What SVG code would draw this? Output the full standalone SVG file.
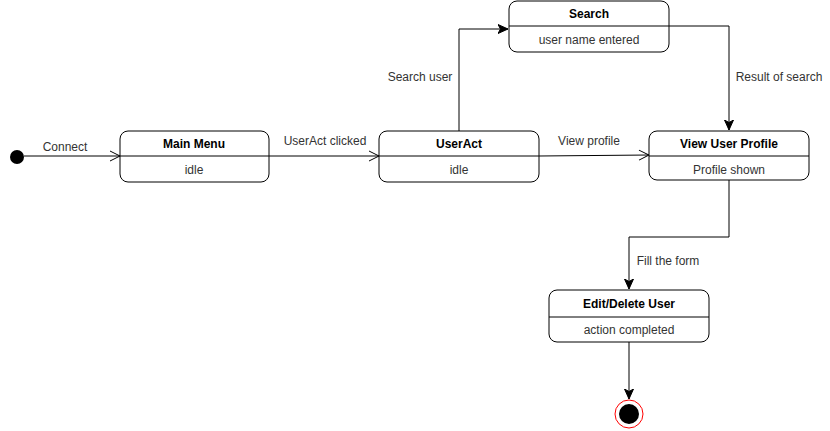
<svg xmlns="http://www.w3.org/2000/svg" width="830" height="431" viewBox="0 0 830 431">
<style>
.box{fill:#fff;stroke:#000;stroke-width:1}
.div{stroke:#000;stroke-width:1}
.t{font-family:"Liberation Sans",Arial,sans-serif;font-size:12px;fill:#333;text-anchor:middle}
.b{font-weight:bold;fill:#000}
.lbl{font-family:"Liberation Sans",Arial,sans-serif;font-size:12px;fill:#333;text-anchor:middle}
.edge{fill:none;stroke:#000;stroke-width:1}
.open{marker-end:url(#open)}
.fill{marker-end:url(#filled)}
</style>
<defs>
<marker id="open" markerWidth="12" markerHeight="12" refX="11" refY="6" orient="auto" markerUnits="userSpaceOnUse">
<path d="M1,1 L11,6 L1,11" fill="none" stroke="#000" stroke-width="1"/>
</marker>
<marker id="filled" markerWidth="12" markerHeight="12" refX="10" refY="5" orient="auto" markerUnits="userSpaceOnUse">
<path d="M0,0.5 L10,5 L0,9.5 L2.5,5 Z" fill="#000" stroke="#000" stroke-width="1"/>
</marker>
</defs>
<g id="edges">
<path class="edge open" d="M24,156 L120,156" stroke="#555"/>
<text class="lbl" x="65" y="151" font-size="11">Connect</text>
<path class="edge open" d="M269,156 L379,156"/>
<text class="lbl" x="325" y="145">UserAct clicked</text>
<path class="edge fill" d="M459,131 L459,29 L508,29"/>
<text class="lbl" x="420" y="81">Search user</text>
<path class="edge fill" d="M669,26 L729,26 L729,130"/>
<text class="lbl" x="779" y="81">Result of search</text>
<path class="edge open" d="M539,156 L649,155"/>
<text class="lbl" x="589" y="145">View profile</text>
<path class="edge fill" d="M729,180 L729,237 L629,237 L629,289"/>
<text class="lbl" x="668" y="265">Fill the form</text>
<path class="edge fill" d="M629,342 L629,399"/>
</g>
<g id="start"><circle cx="17" cy="157" r="7" fill="#000"/></g>
<g id="main-menu">
<rect class="box" x="120" y="131" width="149" height="51" rx="8"/>
<line class="div" x1="120" y1="156" x2="269" y2="156"/>
<text class="t b" x="194" y="148">Main Menu</text>
<text class="t" x="194" y="174">idle</text>
</g>
<g id="useract">
<rect class="box" x="379" y="131" width="160" height="51" rx="8"/>
<line class="div" x1="379" y1="156" x2="539" y2="156"/>
<text class="t b" x="459" y="148">UserAct</text>
<text class="t" x="459" y="174">idle</text>
</g>
<g id="search">
<rect class="box" x="509" y="1" width="160" height="51" rx="8"/>
<line class="div" x1="509" y1="26" x2="669" y2="26"/>
<text class="t b" x="589" y="18">Search</text>
<text class="t" x="589" y="44">user name entered</text>
</g>
<g id="view-profile">
<rect class="box" x="649" y="131" width="160" height="49" rx="8"/>
<line class="div" x1="649" y1="156" x2="809" y2="156"/>
<text class="t b" x="729" y="148">View User Profile</text>
<text class="t" x="729" y="174">Profile shown</text>
</g>
<g id="edit-delete">
<rect class="box" x="549" y="290" width="160" height="52" rx="8"/>
<line class="div" x1="549" y1="317" x2="709" y2="317"/>
<text class="t b" x="629" y="308">Edit/Delete User</text>
<text class="t" x="629" y="334">action completed</text>
</g>
<g id="end">
<circle cx="629" cy="414" r="14" fill="#fff" stroke="#f00" stroke-width="1"/>
<circle cx="629" cy="414" r="10" fill="#000"/>
</g>
</svg>
